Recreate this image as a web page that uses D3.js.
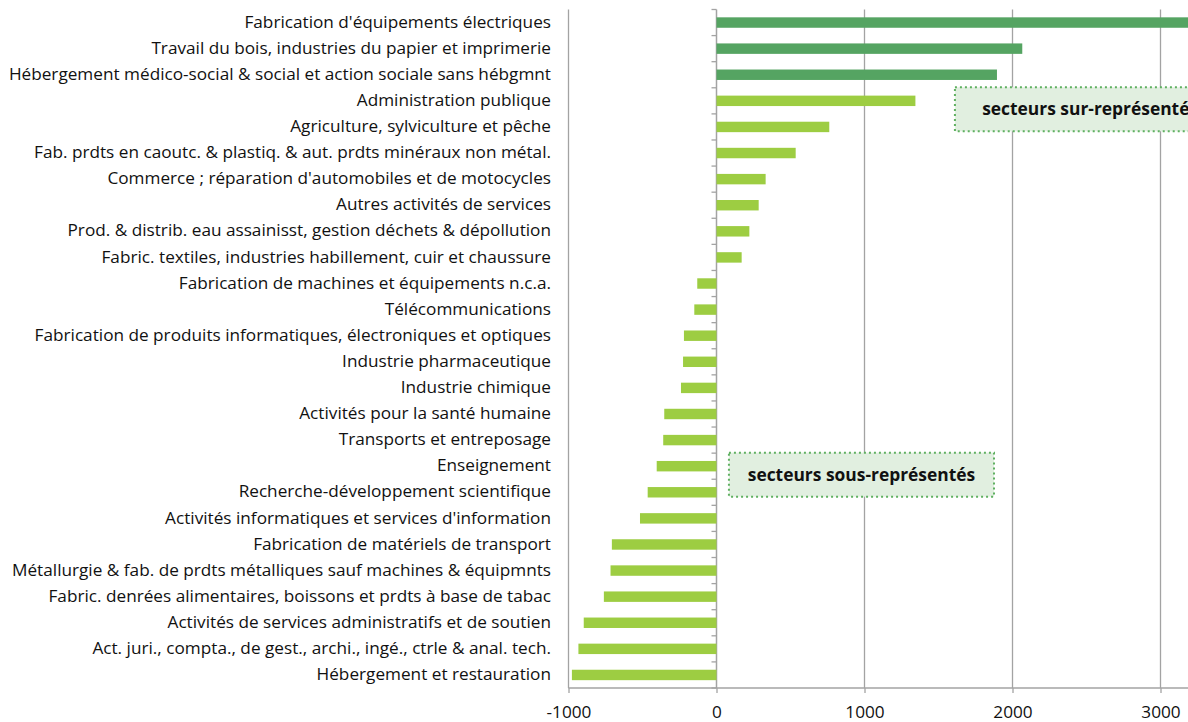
<!DOCTYPE html>
<html>
<head>
<meta charset="utf-8">
<script src="https://cdn.jsdelivr.net/npm/d3@7"></script>
<style>
  body { margin: 0; background: #fff; }
  svg { display: block; font-family: "Open Sans", sans-serif; }
  .cat { font-size: 17.2px; fill: #111; }
  .note { font-size: 17.4px; font-weight: bold; fill: #111; }
</style>
</head>
<body>
<div id="chart"></div>
<script>
// sectors, top to bottom
var sectors = [
  "Fabrication d'équipements électriques",
  "Travail du bois, industries du papier et imprimerie ",
  "Hébergement médico-social & social et action sociale sans hébgmnt",
  "Administration publique",
  "Agriculture, sylviculture et pêche",
  "Fab. prdts en caoutc. & plastiq. & aut. prdts minéraux non métal.",
  "Commerce ; réparation d'automobiles et de motocycles",
  "Autres activités de services ",
  "Prod. & distrib. eau assainisst, gestion déchets & dépollution",
  "Fabric. textiles, industries habillement, cuir et chaussure",
  "Fabrication de machines et équipements n.c.a.",
  "Télécommunications",
  "Fabrication de produits informatiques, électroniques et optiques",
  "Industrie pharmaceutique",
  "Industrie chimique",
  "Activités pour la santé humaine",
  "Transports et entreposage ",
  "Enseignement",
  "Recherche-développement scientifique",
  "Activités informatiques et services d'information",
  "Fabrication de matériels de transport",
  "Métallurgie & fab. de prdts métalliques sauf machines & équipmnts",
  "Fabric. denrées alimentaires, boissons et prdts à base de tabac",
  "Activités de services administratifs et de soutien",
  "Act. juri., compta., de gest., archi., ingé., ctrle & anal. tech.",
  "Hébergement et restauration"
];

var values = [
  3400, 2066, 1895, 1344, 762, 535, 332, 285, 222, 170,
  -130, -150, -220, -226, -240, -353, -360, -404, -465, -517,
  -707, -716, -761, -897, -933, -977
];

// the three strongest sectors are drawn darker
var highlighted = [true, true, true];

var xTicks = [-1000, 0, 1000, 2000, 3000];

var notes = [
  { text: "secteurs sur-représentés", x0: 1611, x1: 3438, row: 3 },
  { text: "secteurs sous-représentés", x0: 84, x1: 1875, row: 17 }
];

var width = 1188, height = 722;
var DARK = "#55a462", LIGHT = "#9dcd42", GRID = "#a3a3a3";

var svg = d3.select("#chart").append("svg")
  .attr("width", width)
  .attr("height", height);

var x = d3.scaleLinear()
  .domain([-1000, 3000])
  .range([568.5, 1160.5]);

var yTop = 9.5, yBottom = 688;

var y = d3.scaleBand()
  .domain(sectors)
  .range([yTop, yBottom])
  .paddingInner(0.6)
  .paddingOuter(0.3);

var bandStep = y.step();

/* gridlines */
svg.append("g")
  .selectAll("line")
  .data(xTicks)
  .enter()
  .append("line")
  .attr("x1", d => x(d))
  .attr("x2", d => x(d))
  .attr("y1", yTop)
  .attr("y2", yBottom)
  .attr("stroke", GRID)
  .attr("stroke-width", d => d === 0 ? 1.5 : 1.3);

/* bottom axis */
var xAxis = d3.axisBottom(x)
  .tickValues(xTicks)
  .tickSize(5)
  .tickFormat(d => String(d));

var gx = svg.append("g")
  .attr("transform", `translate(0, ${yBottom})`)
  .call(xAxis);
gx.select(".domain").remove();
gx.append("line")
  .attr("x1", x(-1000))
  .attr("x2", width)
  .attr("stroke", GRID)
  .attr("stroke-width", 1.5);
gx.selectAll(".tick line").attr("stroke", GRID).attr("stroke-width", 1.3);
gx.selectAll(".tick text")
  .attr("y", 17.5)
  .attr("dy", "0.71em")
  .style("font-family", "'Open Sans', sans-serif")
  .style("font-size", "17.2px")
  .attr("fill", "#111");

/* zero axis tick marks at row boundaries */
svg.append("g")
  .selectAll("line")
  .data(d3.range(sectors.length + 1))
  .enter()
  .append("line")
  .attr("x1", x(0) - 5)
  .attr("x2", x(0))
  .attr("y1", i => yTop + i * bandStep)
  .attr("y2", i => yTop + i * bandStep)
  .attr("stroke", GRID)
  .attr("stroke-width", 1.3);

/* bars */
svg.append("g")
  .selectAll("rect")
  .data(values)
  .enter()
  .append("rect")
  .attr("x", d => Math.min(x(0), x(d)))
  .attr("width", d => Math.abs(x(d) - x(0)))
  .attr("y", (d, i) => y(sectors[i]))
  .attr("height", y.bandwidth())
  .attr("fill", (d, i) => highlighted[i] ? DARK : LIGHT);

/* category labels */
svg.append("g")
  .selectAll("text")
  .data(sectors)
  .enter()
  .append("text")
  .attr("class", "cat")
  .attr("x", 551)
  .attr("y", d => y(d) + y.bandwidth() / 2)
  .attr("dy", "0.3em")
  .attr("text-anchor", "end")
  .text(d => d.trimEnd());

/* annotation boxes */
var ng = svg.append("g")
  .selectAll("g")
  .data(notes)
  .enter()
  .append("g");

ng.append("rect")
  .attr("x", d => x(d.x0))
  .attr("y", d => yTop + d.row * bandStep - 0.5)
  .attr("width", d => x(d.x1) - x(d.x0))
  .attr("height", 44)
  .attr("fill", "#e1efe0")
  .attr("stroke", "#5fb060")
  .attr("stroke-width", 2)
  .attr("stroke-dasharray", "2,3");

ng.append("text")
  .attr("class", "note")
  .attr("x", d => (x(d.x0) + x(d.x1)) / 2)
  .attr("y", d => yTop + d.row * bandStep + 21.5)
  .attr("dy", "0.35em")
  .attr("text-anchor", "middle")
  .text(d => d.text);
</script>
</body>
</html>
